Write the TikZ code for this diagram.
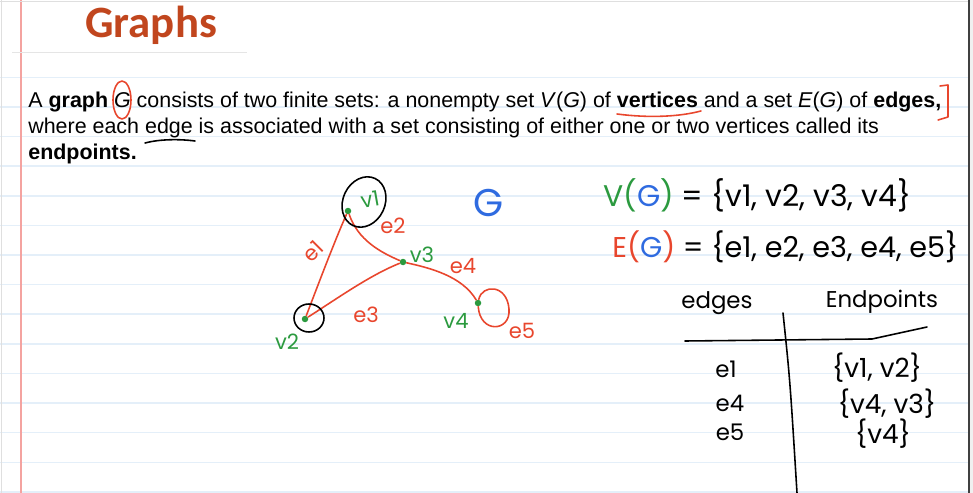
\documentclass[tikz,border=0pt]{standalone}
\usepackage{fontspec}
\setmainfont{Liberation Sans}
\newfontfamily\titlefont{Carlito}
\newfontfamily\handfont{Poppins}
\usetikzlibrary{positioning,shapes.geometric}
\definecolor{slideRust}{HTML}{C1461E}
\definecolor{inkRed}{HTML}{E8462D}
\definecolor{inkGreen}{HTML}{2B9A3F}
\definecolor{inkBlue}{HTML}{2F6BE0}
\definecolor{ruleBlue}{HTML}{E4EFF9}
\definecolor{marginRed}{HTML}{F4A3A0}

\begin{document}
\begin{tikzpicture}[
  x=0.02cm,y=-0.02cm,
  body/.style={anchor=base west,inner sep=0pt,font=\fontsize{12.2}{15}\selectfont},
  vertex/.style={circle,fill=inkGreen,inner sep=0pt,minimum size=0.13cm},
  vlabel/.style={inner sep=0pt,text=inkGreen,font=\handfont\fontsize{12}{14}\selectfont},
  elabel/.style={inner sep=0pt,text=inkRed,font=\handfont\fontsize{12}{14}\selectfont},
  hand/.style={inner sep=0pt,font=\handfont\fontsize{13}{15}\selectfont},
  setline/.style={inner sep=0pt,anchor=west,font=\handfont\fontsize{17}{19}\selectfont},
  edge/.style={draw=inkRed,line width=0.9pt,line cap=round},
  ink/.style={line width=0.9pt,line cap=round,line join=round}
]
% page
\useasboundingbox (0,0) rectangle (973,493);
\fill[gray!12] (969,0) rectangle (973,493);
\foreach \k in {0,...,14}
  \draw[ruleBlue,line width=0.8pt] (0,77.4+29.6*\k) -- (969,77.4+29.6*\k);
\draw[marginRed,line width=0.6pt] (21,0) -- (21,493);
\draw[gray!25] (0,1) -- (969,1);
\draw[gray!25] (1,0) -- (1,493);
\draw[black!75,line width=1.2pt] (969,0) -- (969,493);

% title
\node[anchor=base west,inner sep=0pt,text=slideRust,font=\titlefont\bfseries\fontsize{25.5}{30}\selectfont] (title) at (85,38) {Graphs};
\draw[gray!20] (12,52) -- (247,52);

% definition
\node[body] (line1) at (28,108) {A \textbf{graph} \textit{G} consists of two finite sets: a nonempty set \textit{V}(\textit{G}) of \textbf{vertices} and a set \textit{E}(\textit{G}) of \textbf{edges,}};
\node[body] (line2) at (28,134) {where each edge is associated with a set consisting of either one or two vertices called its};
\node[body] (line3) at (28,160) {\textbf{endpoints.}};

% pen marks on the text
\draw[ink,inkRed] (122,100) ellipse [x radius=9,y radius=19];
\draw[ink,inkRed] (617,114) .. controls (648,118) and (678,117) .. (701,111);
\draw[ink,inkRed] (940,86) -- (948,85) -- (948,117) -- (938,120);
\draw[ink,black] (145,143) .. controls (160,139) and (180,139) .. (195,141);

% the graph
\node[vertex] (v1) at (348,211) {};
\node[vertex] (v2) at (305,319) {};
\node[vertex] (v3) at (403,262) {};
\node[vertex] (v4) at (478,303) {};
\coordinate (loopr) at (509,309);
\draw[edge] (v1) .. controls (335,240) and (318,285) .. (v2);
\draw[edge] (v1) .. controls (358,240) and (380,252) .. (v3);
\draw[edge] (v2) .. controls (335,300) and (370,275) .. (v3);
\draw[edge] (v3) .. controls (430,268) and (462,276) .. (v4);
\draw[edge] (v4) .. controls (482,284) and (507,284) .. (loopr)
                 .. controls (511,332) and (480,334) .. (v4);
\draw[ink,black,rotate around={-25:(364,202)}] (364,202) ellipse [x radius=21,y radius=26];
\draw[ink,black] (309,318) ellipse [x radius=15,y radius=14];
\node[vlabel,rotate=10] (lv1) at (370,199) {v1};
\node[vlabel] (lv2) at (287,342) {v2};
\node[vlabel] (lv3) at (422,255) {v3};
\node[vlabel] (lv4) at (456,321) {v4};
\node[elabel,rotate=45] (le1) at (313,251) {e1};
\node[elabel] (le2) at (393,226) {e2};
\node[elabel] (le3) at (366,315) {e3};
\node[elabel] (le4) at (463,266) {e4};
\node[elabel] (le5) at (522,331) {e5};
\node[inner sep=0pt,text=inkBlue,font=\handfont\fontsize{22}{24}\selectfont] (gname) at (489,203) {G};

% vertex and edge sets
\node[setline] (vset) at (603,195) {{\color{inkGreen}V(}{\color{inkBlue}G}{\color{inkGreen})} = \{v1, v2, v3, v4\}};
\node[setline,font=\handfont\fontsize{16.3}{19}\selectfont] (eset) at (612,247) {{\color{inkRed}E(}{\color{inkBlue}G}{\color{inkRed})} = \{e1, e2, e3, e4, e5\}};

% edge-endpoint table
\node[hand] (hedges) at (717,303) {edges};
\node[hand] (hends) at (882,302) {Endpoints};
\coordinate (hl) at (685,341);
\coordinate (hm) at (872,339);
\coordinate (hr) at (927,327);
\coordinate (vt) at (783,313);
\coordinate (vb) at (797,493);
\draw[ink,black] (hl) -- (hm) -- (hr);
\draw[ink,black] (vt) .. controls (790,380) .. (vb);
\node[hand] (r1a) at (726,369) {e1};
\node[hand] (r2a) at (730,403) {e4};
\node[hand] (r3a) at (730,432) {e5};
\node[hand,font=\handfont\fontsize{15}{17}\selectfont] (r1b) at (877,368) {\{v1, v2\}};
\node[hand,font=\handfont\fontsize{15}{17}\selectfont] (r2b) at (887,404) {\{v4, v3\}};
\node[hand,font=\handfont\fontsize{15}{17}\selectfont] (r3b) at (883,434) {\{v4\}};
\end{tikzpicture}
\end{document}
